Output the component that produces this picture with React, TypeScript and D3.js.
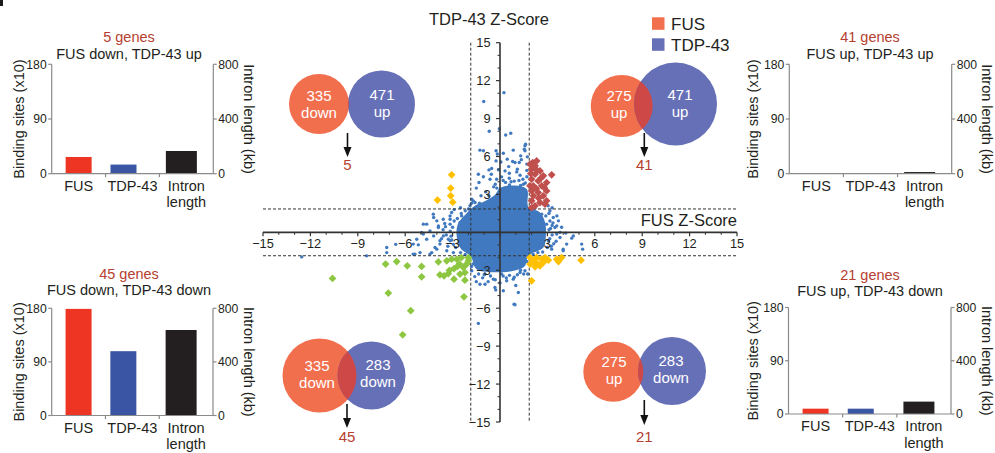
import React from "react";
import * as d3 from "d3";

const W = 995;
const H = 453;
const FONT = "'Liberation Sans', Arial, Helvetica, sans-serif";

// ---- bar panels (TL, TR, BL, BR)
const barCategories = ["FUS", "TDP-43", "Intron length"];
const groupNames = ["FUS down, TDP-43 up", "FUS up, TDP-43 up", "FUS down, TDP-43 down", "FUS up, TDP-43 down"];
const geneCounts = [5, 41, 45, 21];
const fusSites = [27.5, 0, 179, 9];
const tdpSites = [15, 0, 108, 9];
const intronKb = [166, 12, 638, 93];
const siteTicks = [0, 90, 180];
const intronTicks = [0, 400, 800];

// ---- venn diagrams (same order as panels)
const vennFusCount = [335, 275, 335, 275];
const vennFusDir = ["down", "up", "down", "up"];
const vennTdpCount = [471, 471, 283, 283];
const vennTdpDir = ["up", "up", "down", "down"];

// ---- scatter (FUS z-score, TDP-43 z-score)
const zTicks = [-15, -12, -9, -6, -3, 3, 6, 9, 12, 15];
const cutoff = 1.85;

// saturated centre of the cloud, outline only
const denseCore: [number, number][] = [
  [0.0, 3.5], [0.9, 3.7], [1.7, 3.4], [1.8, 2.0], [2.5, 1.6], [2.85, 0.8], [2.9, -0.3],
  [2.75, -1.2], [1.8, -1.85], [1.55, -2.7], [0.8, -3.05], [-0.5, -3.15], [-1.5, -2.9], [-1.85, -1.9],
  [-2.5, -1.25], [-2.75, -0.2], [-2.65, 0.7], [-2.2, 1.4], [-1.6, 2.1], [-0.9, 2.5], [-0.3, 3.0],
];

const otherGenes: [number, number][] = [
  [0.25, 11.05], [-1.03, 10.35], [-0.68, 8.0], [-0.04, 8.2], [0.36, 7.7], [0.68, 7.84],
  [-1.27, 6.5], [-1.05, 6.45], [-0.25, 6.45], [-0.17, 6.2], [0.21, 6.26], [0.84, 6.5], [1.62, 6.97],
  [1.54, 6.58], [1.31, 6.05], [1.73, 5.97], [0.46, 5.79], [0.8, 5.6], [0.95, 5.52], [1.22, 5.52],
  [0.06, 5.57], [-0.25, 5.65], [-0.53, 5.05], [-0.7, 4.94], [-1.37, 4.6], [-1.05, 4.4], [0.32, 4.86],
  [0.59, 4.68], [1.06, 4.78], [1.27, 4.52], [0.59, 4.28], [0.1, 4.39], [-0.63, 4.2], [-0.21, 4.2],
  [1.58, 6.84], [1.58, 6.45], [-1.33, 3.94], [-1.69, 2.49], [-1.9, 2.1], [1.48, 3.81], [1.58, 3.02],
  [-0.84, 2.23], [-1.58, 2.36], [-1.79, 2.62], [1.7, 4.9], [1.45, 4.2], [0.9, 4.05], [0.35, 3.95],
  [-0.4, 3.6], [-0.9, 3.2], [-1.2, 2.9], [1.1, 5.0], [0.55, 5.2], [-0.1, 4.95], [1.7, 5.4], [-1.5, 3.5],
  [-0.55, 4.6], [1.35, 5.75],
  [-3.16, 1.3], [-4.2, 1.17], [-4.0, 0.91], [-4.64, 0.65], [-4.96, 0.0], [-4.43, 0.12], [-4.2, -0.28],
  [-3.8, -0.67], [-5.5, -1.72], [-5.06, -1.6], [-3.37, -1.46], [-12.55, -1.94], [-8.44, -1.86],
  [-7.17, -1.2], [-7.17, -1.6], [-6.6, -0.95], [-5.49, -0.93], [-5.27, -0.54], [-4.85, 0.65],
  [-4.85, -0.14], [-4.32, -1.6], [-4.11, -1.2], [-3.9, 0.38], [-3.59, -0.28], [-3.16, 0.65],
  [-3.16, -0.67], [-5.17, -0.99], [-4.64, -0.54], [-5.38, -1.72], [-4.43, -1.72], [-4.0, -1.33],
  [-3.8, -0.93], [-3.27, -0.54], [-4.22, 1.44], [-3.9, 0.51], [-3.59, 1.04], [-3.16, 1.04], [-3.06, 1.57],
  [-2.53, 0.77], [-2.43, 1.3], [-2.9, 1.8], [-2.5, 1.95], [-3.3, -1.1], [-2.95, -1.6], [-3.6, 0.2], [-3.4, -0.2],
  [3.16, 1.7], [3.37, 1.17], [3.7, 0.91], [3.48, 0.38], [3.8, -0.41], [4.22, -0.93], [4.54, -0.46],
  [5.23, -1.33], [4.0, -1.33], [3.27, -1.33], [2.74, -0.93], [3.06, -0.67], [3.59, -0.14], [4.0, -1.46],
  [5.17, -0.93], [2.64, 1.44], [2.95, 0.65], [3.16, 0.9], [3.59, 0.51], [3.8, 0.0], [4.16, -0.06],
  [4.64, -0.28], [3.3, 1.95], [3.05, 2.1], [3.4, -0.9], [3.1, 0.2], [3.3, 0.55],
  [-1.79, -3.04], [-1.27, -4.1], [-0.95, -3.3], [-0.42, -3.7], [-0.95, -4.1], [-0.32, -4.36], [0.1, -3.3],
  [0.21, -4.62], [0.42, -3.83], [0.84, -3.7], [1.16, -4.76], [0.89, -5.68], [-1.37, -7.2], [1.27, -3.18],
  [1.58, -3.04], [-0.27, -4.55], [0.95, -5.73], [-1.6, -3.5], [-1.1, -3.6], [0.6, -3.4], [1.1, -3.35],
  [-0.6, -3.45], [-1.7, -2.5], [1.7, -2.3], [1.75, -3.3],
  [-2.2, 1.7], [-2.7, 1.1], [-3.0, 0.4], [-3.05, -0.6], [-2.8, -1.2], [2.2, 1.9], [2.9, 1.3], [3.2, 0.3],
  [3.15, -0.5], [3.0, -1.2], [2.4, -1.6], [-0.2, 3.5], [0.6, 3.75], [1.3, 3.7], [-1.0, -3.35], [0.2, -3.45],
  [1.3, -3.0],
  [-2.0, 1.85], [-1.8, 2.3], [-1.3, 2.3], [-0.7, 2.9], [-0.3, 3.8], [0.2, 4.1], [0.7, 4.0], [1.2, 4.1],
  [1.6, 3.9], [1.7, 4.4], [-2.45, 1.5], [-2.9, 0.9], [-3.15, 0.1], [-3.1, -0.3], [-2.95, -0.95],
  [-2.5, -1.6], [-2.2, -1.75], [-3.5, 0.7], [-3.7, -0.5], [-3.45, 0.45], [3.1, 1.5], [3.35, 0.75],
  [3.3, -0.2], [3.25, -1.1], [2.7, -1.55], [2.1, -1.75], [3.55, -0.7], [3.6, 1.3], [3.9, 0.4],
  [1.5, -3.3], [0.4, -3.6], [-0.3, -3.75], [-1.35, -3.3], [-1.8, -2.7], [0.9, -3.55], [1.4, -2.6],
  [-0.75, -3.9], [1.0, -4.2], [-1.5, -3.9], [0.0, -4.0],
];

const fusUpTdpUp: [number, number][] = [
  [2.07, 5.52], [2.22, 5.26], [2.0, 5.0], [2.53, 4.86], [3.27, 4.55], [2.22, 4.6], [2.74, 4.47],
  [2.0, 4.2], [2.42, 4.07], [2.95, 3.94], [2.11, 3.68], [2.64, 3.68], [2.0, 3.28], [2.95, 3.28],
  [2.42, 3.15], [2.11, 2.89], [2.74, 2.89], [2.95, 2.49], [2.0, 2.49], [2.53, 2.36], [2.22, 2.1],
  [2.85, 2.23], [2.0, 1.96], [1.9, 3.68], [2.32, 5.65], [1.9, 5.39], [2.6, 4.3], [2.3, 3.45],
  [2.8, 3.55], [2.45, 2.7], [1.95, 4.65], [2.35, 4.9],
];
const fusDownTdpUp: [number, number][] = [
  [-3.06, 4.55], [-3.12, 3.49], [-3.12, 2.89], [-3.96, 2.55], [-2.99, 2.39],
];
const fusDownTdpDown: [number, number][] = [
  [-10.6, -3.65], [-7.07, -4.8], [-5.65, -6.2], [-6.16, -8.1], [-2.28, -5.1], [-7.24, -2.51],
  [-6.54, -2.31], [-5.87, -2.65], [-4.96, -2.7], [-4.96, -3.52], [-3.9, -2.33], [-3.8, -3.36],
  [-3.54, -3.44], [-3.27, -3.26], [-3.37, -2.25], [-3.06, -2.12], [-2.91, -2.86], [-2.91, -3.7],
  [-2.57, -2.51], [-2.32, -2.78], [-2.22, -3.18], [-2.53, -3.3], [-2.22, -3.78], [-2.0, -2.25],
  [-2.11, -2.51], [-2.74, -2.12], [-2.0, -2.0], [-2.45, -2.0], [-3.2, -3.0], [-2.7, -2.7],
];
const fusUpTdpDown: [number, number][] = [
  [2.0, -3.83], [5.13, -2.2], [3.59, -2.12], [3.9, -1.99], [3.06, -2.2], [2.11, -2.25], [2.42, -2.51],
  [2.74, -2.39], [2.32, -1.99], [2.53, -2.65], [1.9, -2.51], [2.22, -2.73], [3.7, -2.31], [1.9, -1.99],
  [2.64, -2.12], [2.85, -1.99], [2.2, -2.4],
];

// ---- layout / style
const panelBoxes = [
  { x0: 51.7, x1: 213.3, y0: 64.3, y1: 173.7, cx: 129, titleY: 41.7, subY: 58.5, titleRight: 244, titleLeft: 23.5 },
  { x0: 789.3, x1: 951.7, y0: 64.3, y1: 173.7, cx: 870, titleY: 41.7, subY: 58.5, titleRight: 982, titleLeft: 758 },
  { x0: 51.7, x1: 213, y0: 308.3, y1: 415.5, cx: 129, titleY: 279, subY: 295, titleRight: 244, titleLeft: 23.5 },
  { x0: 788.5, x1: 951, y0: 307.5, y1: 414, cx: 870, titleY: 280, subY: 296, titleRight: 982, titleLeft: 758 },
];
const barColors = ["#EE3524", "#3A55A4", "#231F20"];
const barWidth = [26, 26, 31];
const barShift = [0, -9, -5];

const vennLayout = [
  { o: [319, 104, 30], b: [381.5, 104, 33.5], ox: 319, bx: 382, ty: 104, ax: 347.5, ay: [133, 157], ly: 170 },
  { o: [621.7, 106, 31], b: [675.5, 104, 41.5], ox: 619, bx: 680, ty: 104, ax: 644.3, ay: [133, 157], ly: 170 },
  { o: [319.5, 375.5, 37], b: [371.5, 375.5, 34], ox: 317, bx: 378, ty: 374, ax: 347, ay: [404, 428], ly: 441.5 },
  { o: [613.3, 371.7, 30], b: [672, 371, 34], ox: 614, bx: 671, ty: 370, ax: 644.3, ay: [400, 425], ly: 441.5 },
];
const FUS_COL = "#F26F4E";
const TDP_COL = "#6670B7";
const OVERLAP_COL = "#CF4848";
const RED_TXT = "#B5402F";
const DOT = "#4079BF";

function BarPanel({ i }: { i: number }) {
  const b = panelBoxes[i];
  const x = d3.scaleBand<string>().domain(barCategories).range([b.x0, b.x1]);
  const yL = d3.scaleLinear().domain([0, 180]).range([b.y1, b.y0]);
  const yR = d3.scaleLinear().domain([0, 800]).range([b.y1, b.y0]);
  const values = [fusSites[i], tdpSites[i], intronKb[i]];
  const scales = [yL, yL, yR];
  const axisCol = "#8a8a8a";
  const txt = "#231F20";
  const midY = (b.y0 + b.y1) / 2;
  return (
    <g>
      <text x={b.cx} y={b.titleY} textAnchor="middle" fontSize={14.5} fill={RED_TXT}>{geneCounts[i]} genes</text>
      <text x={b.cx} y={b.subY} textAnchor="middle" fontSize={14.5} fill={txt}>{groupNames[i]}</text>
      {barCategories.map((c, k) => {
        const cx = (x(c) as number) + x.bandwidth() / 2 + barShift[k];
        const top = scales[k](values[k]);
        return <rect key={c} x={cx - barWidth[k] / 2} y={top} width={barWidth[k]} height={Math.max(0, b.y1 - top)} fill={barColors[k]} />;
      })}
      <line x1={b.x0} x2={b.x0} y1={b.y0} y2={b.y1} stroke={axisCol} strokeWidth={1.2} />
      <line x1={b.x1} x2={b.x1} y1={b.y0} y2={b.y1} stroke={axisCol} strokeWidth={1.2} />
      <line x1={b.x0} x2={b.x1} y1={b.y1} y2={b.y1} stroke={axisCol} strokeWidth={1.2} />
      {barCategories.slice(1).map((c) => (
        <line key={c} x1={x(c)} x2={x(c)} y1={b.y1} y2={b.y1 + 3.5} stroke={axisCol} strokeWidth={1.2} />
      ))}
      {siteTicks.map((t) => (
        <g key={t}>
          <line x1={b.x0 - 3.5} x2={b.x0} y1={yL(t)} y2={yL(t)} stroke={axisCol} strokeWidth={1.2} />
          <text x={b.x0 - 5} y={yL(t) + 4.3} textAnchor="end" fontSize={12.2} fill={txt}>{t}</text>
        </g>
      ))}
      {intronTicks.map((t) => (
        <g key={t}>
          <line x1={b.x1} x2={b.x1 + 3.5} y1={yR(t)} y2={yR(t)} stroke={axisCol} strokeWidth={1.2} />
          <text x={b.x1 + 5} y={yR(t) + 4.3} textAnchor="start" fontSize={12.2} fill={txt}>{t}</text>
        </g>
      ))}
      {barCategories.map((c) => {
        const cx = (x(c) as number) + x.bandwidth() / 2;
        const lines = c === "Intron length" ? ["Intron", "length"] : [c];
        return lines.map((l, j) => (
          <text key={c + j} x={cx} y={b.y1 + 17 + j * 16.5} textAnchor="middle" fontSize={14.5} fill={txt}>{l}</text>
        ));
      })}
      <text transform={`translate(${b.titleLeft},${midY}) rotate(-90)`} textAnchor="middle" fontSize={14.5} fill={txt}>Binding sites (x10)</text>
      <text transform={`translate(${b.titleRight},${midY}) rotate(90)`} textAnchor="middle" fontSize={14.5} fill={txt}>Intron length (kb)</text>
    </g>
  );
}

function Venn({ i }: { i: number }) {
  const v = vennLayout[i];
  const id = `venn-clip-${i}`;
  const [ocx, ocy, or] = v.o;
  const [bcx, bcy, br] = v.b;
  return (
    <g>
      <defs>
        <clipPath id={id}><circle cx={ocx} cy={ocy} r={or} /></clipPath>
      </defs>
      <circle cx={ocx} cy={ocy} r={or} fill={FUS_COL} />
      <circle cx={bcx} cy={bcy} r={br} fill={TDP_COL} />
      <circle cx={bcx} cy={bcy} r={br} fill={OVERLAP_COL} clipPath={`url(#${id})`} />
      <g fill="#fff" fontSize={15} textAnchor="middle">
        <text x={v.ox} y={v.ty - 3}>{vennFusCount[i]}</text>
        <text x={v.ox} y={v.ty + 13.5}>{vennFusDir[i]}</text>
        <text x={v.bx} y={v.ty - 4}>{vennTdpCount[i]}</text>
        <text x={v.bx} y={v.ty + 12.5}>{vennTdpDir[i]}</text>
      </g>
      <line x1={v.ax} x2={v.ax} y1={v.ay[0]} y2={v.ay[1] - 8} stroke="#111" strokeWidth={1.6} />
      <path d={`M${v.ax - 4},${v.ay[1] - 10} L${v.ax + 4},${v.ay[1] - 10} L${v.ax},${v.ay[1]} Z`} fill="#111" />
      <text x={v.ax} y={v.ly} textAnchor="middle" fontSize={15} fill={RED_TXT}>{geneCounts[i]}</text>
    </g>
  );
}

function Scatter() {
  const xs = d3.scaleLinear().domain([-15, 15]).range([263, 737]);
  const ys = d3.scaleLinear().domain([-15, 15]).range([422, 42.7]);
  const corePath = d3
    .line<[number, number]>()
    .x((d) => xs(d[0]))
    .y((d) => ys(d[1]))
    .curve(d3.curveCatmullRomClosed.alpha(0.5))(denseCore) as string;
  const diamond = d3.symbol().type(d3.symbolSquare).size(30)() as string;
  const minor = d3.range(-15, 16, 1).filter((t) => t % 3 !== 0);
  const major = d3.range(-15, 16, 3);
  const axisCol = "#333";
  const fmt = (t: number) => (t < 0 ? `\u2212${Math.abs(t)}` : `${t}`);
  const groups: [[number, number][], string][] = [
    [fusUpTdpUp, "#C0504D"],
    [fusDownTdpUp, "#FFC000"],
    [fusDownTdpDown, "#8DC641"],
    [fusUpTdpDown, "#FFC000"],
  ];
  return (
    <g>
      <path d={corePath} fill={DOT} />
      {otherGenes.map((d, k) => (
        <circle key={k} cx={xs(d[0])} cy={ys(d[1])} r={1.7} fill={DOT} />
      ))}
      <g stroke="#333" strokeWidth={1} strokeDasharray="3,2" fill="none">
        {[-cutoff, cutoff].map((c) => (
          <line key={"v" + c} x1={xs(c)} x2={xs(c)} y1={ys(15)} y2={ys(-15)} />
        ))}
        {[-cutoff, cutoff].map((c) => (
          <line key={"h" + c} x1={xs(-15)} x2={xs(15)} y1={ys(c)} y2={ys(c)} />
        ))}
      </g>
      {groups.map(([pts, col], g) =>
        pts.map((d, k) => (
          <path key={g + "-" + k} d={diamond} transform={`translate(${xs(d[0])},${ys(d[1])}) rotate(45)`} fill={col} />
        ))
      )}
      <line x1={xs(0)} x2={xs(0)} y1={ys(15)} y2={ys(-15)} stroke={axisCol} strokeWidth={1.6} />
      <line x1={xs(-15)} x2={xs(15)} y1={ys(0)} y2={ys(0)} stroke={axisCol} strokeWidth={1.6} />
      {minor.map((t) => (
        <g key={"m" + t} stroke={axisCol} strokeWidth={1}>
          <line x1={xs(0) - 2.5} x2={xs(0)} y1={ys(t)} y2={ys(t)} />
          <line x1={xs(t)} x2={xs(t)} y1={ys(0)} y2={ys(0) + 2.5} />
        </g>
      ))}
      {major.map((t) => (
        <g key={"M" + t} stroke={axisCol} strokeWidth={1.2}>
          <line x1={xs(0) - 4} x2={xs(0)} y1={ys(t)} y2={ys(t)} />
          <line x1={xs(t)} x2={xs(t)} y1={ys(0)} y2={ys(0) + 4} />
        </g>
      ))}
      {zTicks.map((t) => (
        <g key={"l" + t} fontSize={12.8} fill="#231F20">
          <text x={xs(0) - 9.5} y={ys(t) + 4.5} textAnchor="end">{fmt(t)}</text>
          <text x={xs(t)} y={ys(0) + 15.6} textAnchor="middle">{fmt(t)}</text>
        </g>
      ))}
      <text x={489} y={25} textAnchor="middle" fontSize={16.5} fill="#231F20">TDP-43 Z-Score</text>
      <text x={xs(15)} y={226} textAnchor="end" fontSize={16.5} fill="#231F20">FUS Z-Score</text>
    </g>
  );
}

function Legend() {
  const items: [string, string][] = [["FUS", FUS_COL], ["TDP-43", TDP_COL]];
  return (
    <g>
      {items.map(([name, col], k) => (
        <g key={name}>
          <rect x={652} y={17.3 + k * 21} width={12.5} height={12.5} fill={col} />
          <text x={671} y={30.3 + k * 20.5} fontSize={17} fill="#231F20">{name}</text>
        </g>
      ))}
    </g>
  );
}

export default function App() {
  return (
    <svg
      width={W}
      height={H}
      viewBox={`0 0 ${W} ${H}`}
      fontFamily={FONT}
      style={{ position: "absolute", left: 0, top: 0, display: "block", background: "#fff" }}
    >
      <rect width={W} height={H} fill="#fff" />
      <rect x={0} y={0} width={3} height={6} fill="#1a1a1a" />
      {panelBoxes.map((_, i) => (
        <BarPanel key={"p" + i} i={i} />
      ))}
      <Scatter />
      {vennLayout.map((_, i) => (
        <Venn key={"v" + i} i={i} />
      ))}
      <Legend />
    </svg>
  );
}
